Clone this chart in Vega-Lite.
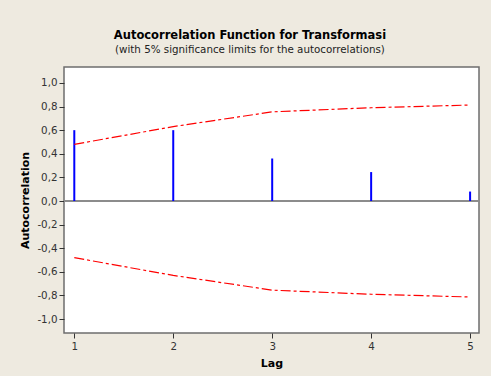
{
  "$schema": "https://vega.github.io/schema/vega-lite/v6.json",
  "width": 415,
  "height": 266,
  "autosize": "none",
  "padding": {"left": 64, "top": 67, "right": 12, "bottom": 43},
  "background": "#EEEAE0",
  "title": {
    "text": "Autocorrelation Function for Transformasi",
    "subtitle": "(with 5% significance limits for the autocorrelations)",
    "anchor": "middle",
    "frame": "bounds",
    "font": "DejaVu Sans",
    "fontSize": 11.5,
    "fontWeight": "bold",
    "color": "#000000",
    "subtitleFont": "DejaVu Sans",
    "subtitleFontSize": 10.3,
    "subtitleColor": "#222222",
    "subtitlePadding": 3,
    "offset": 12
  },
  "config": {
    "view": {"fill": "white", "stroke": "#6E6E6E", "strokeWidth": 1.5},
    "axis": {
      "labelFont": "DejaVu Sans",
      "labelFontSize": 10.3,
      "labelColor": "#333333",
      "labelOverlap": false,
      "titleFont": "DejaVu Sans",
      "titleFontSize": 11,
      "titleFontWeight": "bold",
      "titleColor": "#000000",
      "tickColor": "#333333",
      "tickSize": 5,
      "domain": false,
      "grid": false
    }
  },
  "data": {
    "values": [
      {"lag": 1, "acf": 0.60, "upper": 0.48, "lower": -0.48},
      {"lag": 2, "acf": 0.60, "upper": 0.63, "lower": -0.63},
      {"lag": 3, "acf": 0.36, "upper": 0.755, "lower": -0.755},
      {"lag": 4, "acf": 0.245, "upper": 0.79, "lower": -0.79},
      {"lag": 5, "acf": 0.08, "upper": 0.813, "lower": -0.813}
    ]
  },
  "encoding": {
    "x": {
      "field": "lag",
      "type": "quantitative",
      "scale": {"domain": [0.896, 5.09], "nice": false, "zero": false},
      "axis": {"values": [1, 2, 3, 4, 5], "format": "d", "title": "Lag", "titlePadding": 6, "labelPadding": 3, "labelFlush": false}
    },
    "y": {
      "field": "acf",
      "type": "quantitative",
      "scale": {"domain": [-1.118, 1.135], "nice": false, "zero": false},
      "axis": {
        "values": [-1, -0.8, -0.6, -0.4, -0.2, 0, 0.2, 0.4, 0.6, 0.8, 1],
        "labelExpr": "replace(replace(format(datum.value, '.1f'), '.', ','), '\u2212', '-')",
        "labelOverlap": false,
        "labelFlush": false,
        "title": "Autocorrelation",
        "titlePadding": 6,
        "labelPadding": 2
      }
    }
  },
  "layer": [
    {
      "mark": {"type": "rule", "color": "#8C8C8C", "strokeWidth": 2},
      "encoding": {"x": {"datum": 0.896}, "x2": {"datum": 5.09}, "y": {"datum": 0}}
    },
    {
      "mark": {"type": "rule", "color": "#0000FF", "strokeWidth": 2},
      "encoding": {"y2": {"datum": 0}}
    },
    {
      "mark": {"type": "line", "color": "#FF0000", "strokeWidth": 1.2, "strokeDash": [10, 3, 3, 3]},
      "encoding": {"y": {"field": "upper", "type": "quantitative"}}
    },
    {
      "mark": {"type": "line", "color": "#FF0000", "strokeWidth": 1.2, "strokeDash": [10, 3, 3, 3]},
      "encoding": {"y": {"field": "lower", "type": "quantitative"}}
    }
  ]
}
